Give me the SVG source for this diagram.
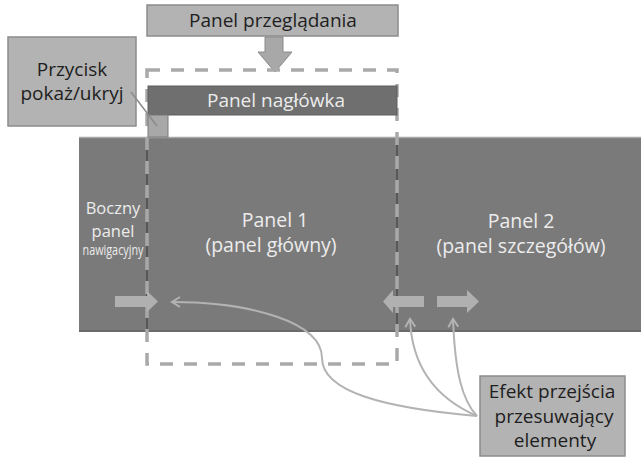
<svg xmlns="http://www.w3.org/2000/svg" width="641" height="458" viewBox="0 0 641 458">
<defs>
<style>
.box{fill:#b3b3b3;stroke:#8c8c8c;stroke-width:1.5}
.dark{fill:#6f6f6f;stroke:#5e5e5e;stroke-width:1}
.t{font-family:"Open Sans","Noto Sans",sans-serif;text-anchor:middle}
.tb{fill:#1e1e1e;font-size:19px}
.tw{fill:#ececec}
.dash{fill:none;stroke:#a9a9a9;stroke-width:3.5;stroke-dasharray:13 11}
.con{fill:none;stroke:#b3b3b3;stroke-width:2}
.arr{fill:#b0b0b0}
</style>
<marker id="open" viewBox="0 0 12 12" refX="10" refY="6" markerWidth="12" markerHeight="12" markerUnits="userSpaceOnUse" orient="auto">
<path d="M2,1 L10,6 L2,11" fill="none" stroke="#b3b3b3" stroke-width="2"/>
</marker>
</defs>
<rect width="641" height="458" fill="#ffffff"/>

<g id="main-panel">
<rect x="79" y="137" width="570" height="195" fill="#7a7a7a"/>
<line x1="79" y1="137.5" x2="641" y2="137.5" stroke="#a8a8a8" stroke-width="1.5"/>
<line x1="79" y1="331" x2="641" y2="331" stroke="#666" stroke-width="1.5"/>
<line x1="147" y1="137" x2="147" y2="332" stroke="#4e4e4e" stroke-width="1.5"/>
<line x1="397" y1="137" x2="397" y2="332" stroke="#4e4e4e" stroke-width="1.5"/>
</g>

<g id="panel-przegladania">
<rect class="box" x="147" y="5" width="251" height="31"/>
<text class="t tb" x="273" y="27" font-size="18.5">Panel przeglądania</text>
<polygon points="265,37 283,37 283,52 292,52 275,72 258,52 265,52" fill="#a8a8a8" stroke="#8a8a8a" stroke-width="1"/>
</g>

<g id="viewport">
<rect class="dash" x="147" y="70" width="250" height="294"/>
</g>

<g id="panel-naglowka">
<rect class="dark" x="148" y="86" width="249" height="29"/>
<text class="t tw" x="276" y="107" font-size="19">Panel nagłówka</text>
</g>

<g id="przycisk">
<rect class="box" x="8" y="37" width="128" height="89"/>
<text class="t tb" x="72" y="76" font-size="20">Przycisk</text>
<text class="t tb" x="72" y="100" font-size="20">pokaż/ukryj</text>
<rect x="148" y="115" width="20" height="22" fill="#a8a8a8" stroke="#7a7a7a" stroke-width="1"/>
<line x1="131" y1="92" x2="157" y2="126" stroke="#8a8a8a" stroke-width="1.5"/>
</g>

<g id="boczny-panel">
<text class="t tw" x="113" y="214" font-size="16.5">Boczny</text>
<text class="t tw" x="113" y="237" font-size="16.5">panel</text>
<text class="t tw" x="113" y="255" font-size="14" textLength="61" lengthAdjust="spacingAndGlyphs">nawigacyjny</text>
</g>

<g id="panel-1">
<text class="t tw" x="275" y="227" font-size="19.5">Panel 1</text>
<text class="t tw" x="271" y="252" font-size="19.5">(panel główny)</text>
</g>

<g id="panel-2">
<text class="t tw" x="521" y="228" font-size="19.5">Panel 2</text>
<text class="t tw" x="521" y="253" font-size="19.5">(panel szczegółów)</text>
</g>

<g id="slide-arrows">
<polygon class="arr" points="115,296 147,296 147,291 158,301.5 147,312 147,307 115,307"/>
<polygon class="arr" points="424,296 393,296 393,290 383,301.5 393,313 393,307 424,307"/>
<polygon class="arr" points="437,296 467,296 467,290 479,301.5 467,313 467,307 437,307"/>
</g>

<g id="efekt">
<rect class="box" x="480" y="376" width="145" height="80"/>
<text class="t tb" x="552" y="398">Efekt przejścia</text>
<text class="t tb" x="554" y="423">przesuwający</text>
<text class="t tb" x="555" y="447">elementy</text>
</g>

<g id="connectors">
<path class="con" d="M477,416 C385,408 322,392 322,358 C322,322 250,302 172,302" marker-end="url(#open)"/>
<path class="con" d="M477,416 C440,400 412,372 410,319" marker-end="url(#open)"/>
<path class="con" d="M477,416 C462,400 455,372 453,319" marker-end="url(#open)"/>
</g>
</svg>
